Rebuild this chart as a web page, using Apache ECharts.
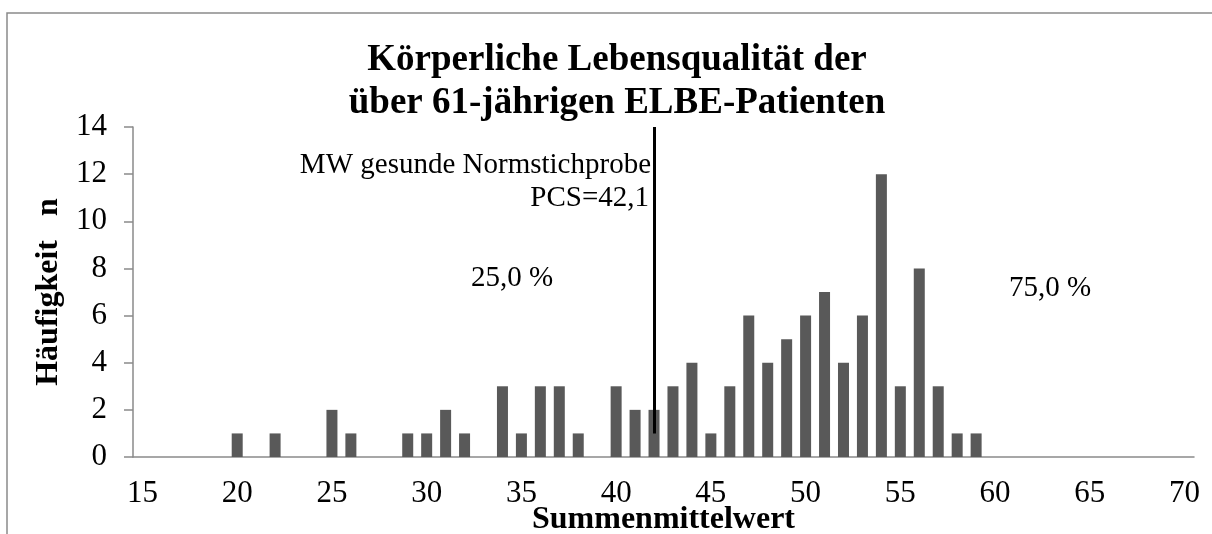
<!DOCTYPE html>
<html lang="de">

<head>
  <meta charset="utf-8">
  <title>Körperliche Lebensqualität</title>
  <script src="https://cdn.jsdelivr.net/npm/echarts@6/dist/echarts.min.js"></script>
  <style>
    body {
      margin: 0;
      background: white;
      overflow: hidden;
    }

    #chart {
      width: 1212px;
      height: 534px;
    }
  </style>
</head>

<body>
  <div id="chart"></div>

  <script>
    // --- Data.

    // One category per integer score, 15 .. 70.
    const SCORES = [
      '15', '16', '17', '18', '19', '20', '21', '22', '23', '24',
      '25', '26', '27', '28', '29', '30', '31', '32', '33', '34',
      '35', '36', '37', '38', '39', '40', '41', '42', '43', '44',
      '45', '46', '47', '48', '49', '50', '51', '52', '53', '54',
      '55', '56', '57', '58', '59', '60', '61', '62', '63', '64',
      '65', '66', '67', '68', '69', '70'
    ];

    // Frequency n per score, same order as SCORES.
    const COUNTS = [
      0, 0, 0, 0, 0, 1, 0, 1, 0, 0,
      2, 1, 0, 0, 1, 1, 2, 1, 0, 3,
      1, 3, 3, 1, 0, 3, 2, 2, 3, 4,
      1, 3, 6, 4, 5, 6, 7, 4, 6, 12,
      3, 8, 3, 1, 1, 0, 0, 0, 0, 0,
      0, 0, 0, 0, 0, 0
    ];

    // Mean of the healthy norm sample, drawn as a vertical marker.
    const NORM_SCORE = '42';
    const NORM_RANGE = [1, 14];

    // Y axis ticks.
    const Y_MIN = 0;
    const Y_MAX = 14;
    const Y_STEP = 2;

    const TITLE = 'Körperliche Lebensqualität der\nüber 61-jährigen ELBE-Patienten';
    const NORM_LABEL = ['MW gesunde Normstichprobe', 'PCS=42,1'];
    const SHARE_BELOW = '25,0 %';
    const SHARE_ABOVE = '75,0 %';

    // --- Styling.

    const FONT = '"Liberation Serif", "Times New Roman", serif';
    const AXIS_GRAY = '#8a8a8a';
    const BAR_GRAY = '#595959';

    function makeOptions() {
      return {
        animation: false,
        textStyle: { fontFamily: FONT, color: '#000' },

        // Fixed plot area, labels are allowed outside of it.
        grid: { left: 133, right: 18, top: 127, bottom: 77, outerBoundsMode: 'none', containLabel: false },

        graphic: [
          // Outer chart frame, only top and left edges are in view.
          {
            type: 'rect',
            shape: { x: 7, y: 13, width: 1400, height: 700 },
            style: { fill: 'none', stroke: AXIS_GRAY, lineWidth: 1.5 },
            silent: true
          },
          {
            type: 'text',
            x: 617, y: 82,
            style: {
              text: TITLE, font: 'bold 37px ' + FONT, fill: '#000',
              textAlign: 'center', textVerticalAlign: 'middle', lineHeight: 43
            }
          },
          {
            type: 'text',
            x: 651, y: 165,
            style: {
              text: NORM_LABEL[0], font: '29px ' + FONT, fill: '#000',
              textAlign: 'right', textVerticalAlign: 'middle'
            }
          },
          {
            type: 'text',
            x: 649, y: 198,
            style: {
              text: NORM_LABEL[1], font: '29px ' + FONT, fill: '#000',
              textAlign: 'right', textVerticalAlign: 'middle'
            }
          },
          {
            type: 'text',
            x: 471, y: 278,
            style: {
              text: SHARE_BELOW, font: '29px ' + FONT, fill: '#000',
              textAlign: 'left', textVerticalAlign: 'middle'
            }
          },
          {
            type: 'text',
            x: 1009, y: 288,
            style: {
              text: SHARE_ABOVE, font: '29px ' + FONT, fill: '#000',
              textAlign: 'left', textVerticalAlign: 'middle'
            }
          }
        ],

        xAxis: {
          type: 'category',
          data: SCORES,
          boundaryGap: true,
          name: 'Summenmittelwert',
          nameLocation: 'middle',
          nameGap: 47,
          nameMoveOverlap: false,
          nameTextStyle: { fontFamily: FONT, fontWeight: 'bold', fontSize: 32, color: '#000' },
          axisLine: { lineStyle: { color: AXIS_GRAY, width: 1.5 } },
          axisTick: { interval: 0, length: 9, lineStyle: { color: AXIS_GRAY, width: 1.5 } },
          axisLabel: { interval: 4, margin: 21, fontFamily: FONT, fontSize: 31, color: '#000' },
          splitLine: { show: false }
        },

        yAxis: {
          type: 'value',
          min: Y_MIN,
          max: Y_MAX,
          interval: Y_STEP,
          name: 'Häufigkeit   n',
          nameLocation: 'middle',
          nameRotate: 90,
          nameGap: 68,
          nameMoveOverlap: false,
          nameTextStyle: { fontFamily: FONT, fontWeight: 'bold', fontSize: 32, color: '#000' },
          axisLine: { show: true, lineStyle: { color: AXIS_GRAY, width: 1.5 } },
          axisTick: { show: true, length: 9, lineStyle: { color: AXIS_GRAY, width: 1.5 } },
          axisLabel: { margin: 26, fontFamily: FONT, fontSize: 31, color: '#000' },
          splitLine: { show: false }
        },

        series: [
          {
            type: 'bar',
            data: COUNTS,
            barWidth: 11,
            itemStyle: { color: BAR_GRAY },
            silent: true,
            markLine: {
              silent: true,
              symbol: 'none',
              label: { show: false },
              lineStyle: { color: '#000', width: 3, type: 'solid' },
              data: [[
                { coord: [NORM_SCORE, NORM_RANGE[0]] },
                { coord: [NORM_SCORE, NORM_RANGE[1]] }
              ]]
            }
          }
        ]
      };
    }

    const instance = echarts.init(document.getElementById('chart'));
    instance.setOption(makeOptions());
  </script>
</body>

</html>
